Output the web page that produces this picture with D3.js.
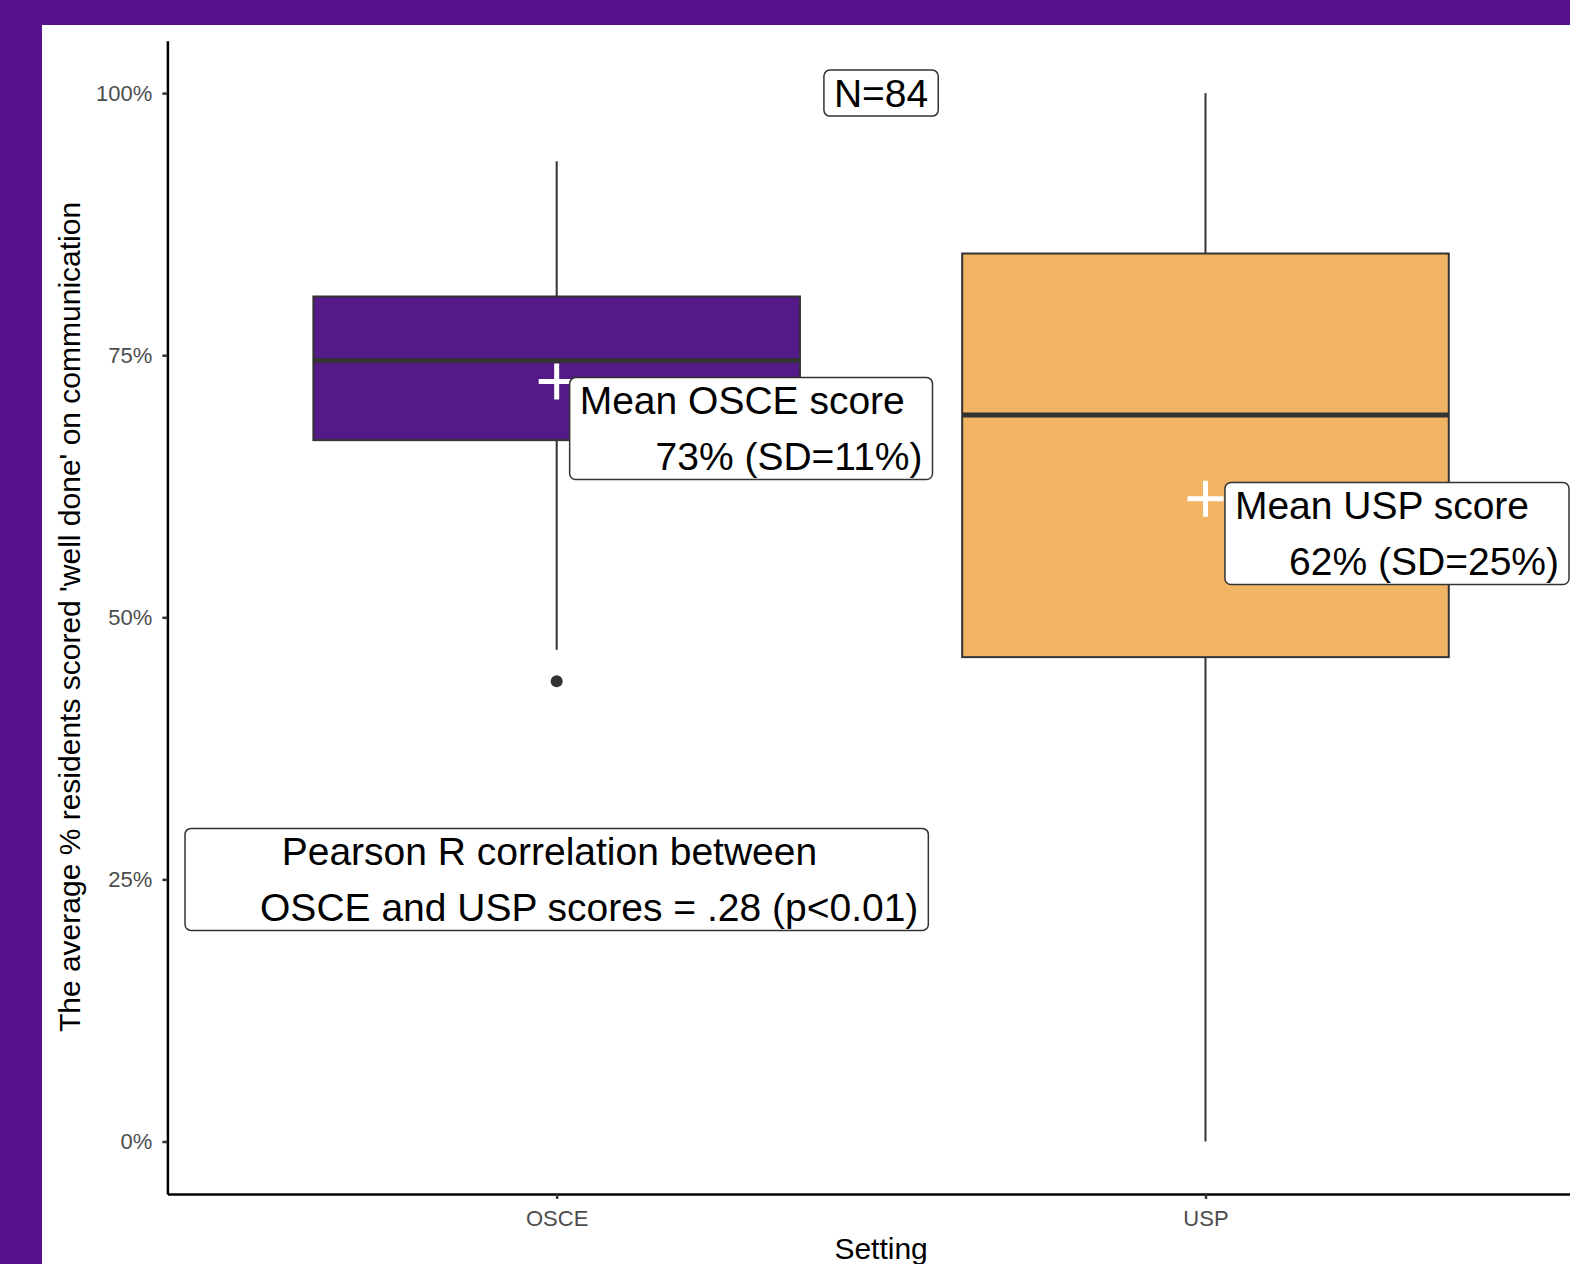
<!DOCTYPE html>
<html>
<head>
<meta charset="utf-8">
<script src="https://cdn.jsdelivr.net/npm/d3@7"></script>
<style>
  body { margin: 0; background: #57108b; overflow: hidden; }
  svg { display: block; }
  text { font-family: "Liberation Sans", Arial, Helvetica, sans-serif; }
</style>
</head>
<body>
<script>
// Box plot summary values (share of residents, 0-1)
const categories = ['OSCE', 'USP'];
const whiskerLow = [0.469, 0.0];
const q1 = [0.669, 0.462];
const medians = [0.745, 0.693];
const q3 = [0.806, 0.847];
const whiskerHigh = [0.935, 1.0];
const means = [0.725, 0.613];
const outliers = [{ setting: 'OSCE', value: 0.439 }];
const boxColors = ['#531a88', '#f0b464'];
const yTicks = [0, 0.25, 0.5, 0.75, 1];

// Text annotations (anchor in data units: x = category position, y = share)
const labelTexts = [
  ['N=84'],
  ['Mean OSCE score', '       73% (SD=11%)'],
  ['Mean USP score', '     62% (SD=25%)'],
  ['        Pearson R correlation between', '      OSCE and USP scores = .28 (p<0.01)']
];
const labelX = [1.5, 1.02, 2.03, 1];
const labelY = [1.0, 0.68, 0.58, 0.25];
const labelHjust = [0.5, 0, 0, 0.5];

const width = 1570, height = 1264;

const svg = d3.select('body').append('svg')
    .attr('width', width)
    .attr('height', height);

// purple frame and white panel
svg.append('rect').attr('width', width).attr('height', height).attr('fill', '#57108b');
svg.append('rect').attr('x', 42).attr('y', 25).attr('width', width - 42).attr('height', height - 25).attr('fill', '#fff');

const unit = 648.8;  // px per category step
const x = d3.scaleLinear().domain([0.4, 2.6]).range([167.4, 167.4 + 2.2 * unit]);
const y = d3.scaleLinear().domain([-0.05, 1.05]).range([1193.9, 40.7]);

const boxHalf = 0.375;  // half box width in category units

// whiskers
categories.forEach((c, i) => {
    const cx = x(i + 1);
    svg.append('line')
        .attr('x1', cx).attr('x2', cx)
        .attr('y1', y(q3[i])).attr('y2', y(whiskerHigh[i]))
        .attr('stroke', '#333').attr('stroke-width', 2);
    svg.append('line')
        .attr('x1', cx).attr('x2', cx)
        .attr('y1', y(q1[i])).attr('y2', y(whiskerLow[i]))
        .attr('stroke', '#333').attr('stroke-width', 2);
});

// boxes
svg.selectAll('.box')
    .data(categories)
    .enter().append('rect')
    .attr('class', 'box')
    .attr('x', (d, i) => x(i + 1 - boxHalf))
    .attr('width', (d, i) => x(i + 1 + boxHalf) - x(i + 1 - boxHalf))
    .attr('y', (d, i) => y(q3[i]))
    .attr('height', (d, i) => y(q1[i]) - y(q3[i]))
    .attr('fill', (d, i) => boxColors[i])
    .attr('stroke', '#333')
    .attr('stroke-width', 2);

// medians
svg.selectAll('.median')
    .data(categories)
    .enter().append('line')
    .attr('class', 'median')
    .attr('x1', (d, i) => x(i + 1 - boxHalf))
    .attr('x2', (d, i) => x(i + 1 + boxHalf))
    .attr('y1', (d, i) => y(medians[i]))
    .attr('y2', (d, i) => y(medians[i]))
    .attr('stroke', '#333')
    .attr('stroke-width', 5);

// outliers
svg.selectAll('.outlier')
    .data(outliers)
    .enter().append('circle')
    .attr('class', 'outlier')
    .attr('cx', d => x(categories.indexOf(d.setting) + 1))
    .attr('cy', d => y(d.value))
    .attr('r', 6)
    .attr('fill', '#333');

// mean markers (white plus)
svg.selectAll('.mean')
    .data(categories)
    .enter().append('path')
    .attr('class', 'mean')
    .attr('d', (d, i) => {
        const cx = x(i + 1), cy = y(means[i]), s = 18;
        return `M${cx - s},${cy}H${cx + s}M${cx},${cy - s}V${cy + s}`;
    })
    .attr('stroke', '#fff')
    .attr('stroke-width', 5);

// axes
const yAxis = svg.append('g')
    .attr('transform', `translate(${x(0.4)},0)`)
    .call(d3.axisLeft(y).tickValues(yTicks).tickFormat(d3.format('.0%')).tickSize(5).tickSizeOuter(0).tickPadding(10));

const xAxis = svg.append('g')
    .attr('transform', `translate(0,${y(-0.05)})`)
    .call(d3.axisBottom(x).tickValues([1, 2]).tickFormat(d => categories[d - 1]).tickSize(5).tickSizeOuter(0).tickPadding(11));

[yAxis, xAxis].forEach(ax => {
    ax.select('.domain').attr('stroke', '#000').attr('stroke-width', 2.5);
    ax.selectAll('.tick line').attr('stroke', '#333').attr('stroke-width', 2.5);
    ax.selectAll('.tick text')
        .attr('fill', '#4d4d4d')
        .style('font-size', '22px')
        .style('font-family', '"Liberation Sans", Arial, sans-serif');
});

// axis titles
svg.append('text')
    .attr('transform', 'translate(80,617) rotate(-90)')
    .attr('text-anchor', 'middle')
    .style('font-size', '30px')
    .text("The average % residents scored 'well done' on communication");

svg.append('text')
    .attr('x', x(1.5))
    .attr('y', 1259)
    .attr('text-anchor', 'middle')
    .style('font-size', '30px')
    .text('Setting');

// Function to draw a boxed label like ggplot's geom_label
function drawLabel(lines, lx, ly, hjust) {
    const g = svg.append('g');
    const rect = g.append('rect');
    const t = g.append('text')
        .attr('xml:space', 'preserve')
        .style('white-space', 'pre')
        .style('font-size', '39px')
        .attr('fill', '#000');
    lines.forEach((line, i) => {
        t.append('tspan').attr('x', 0).attr('dy', i === 0 ? 0 : 56).text(line);
    });
    const bb = t.node().getBBox();
    const padX = 10, padY = 1.5;
    const bw = bb.width + 2 * padX, bh = bb.height + 2 * padY;
    rect.attr('x', bb.x - padX).attr('y', bb.y - padY)
        .attr('width', bw).attr('height', bh)
        .attr('rx', 6).attr('ry', 6)
        .attr('fill', '#fff')
        .attr('stroke', '#333')
        .attr('stroke-width', 1.5);
    const left = x(lx) - hjust * bw;
    const top = y(ly) - bh / 2;
    g.attr('transform', `translate(${left - (bb.x - padX)},${top - (bb.y - padY)})`);
}

labelTexts.forEach((lines, i) => drawLabel(lines, labelX[i], labelY[i], labelHjust[i]));
</script>
</body>
</html>
